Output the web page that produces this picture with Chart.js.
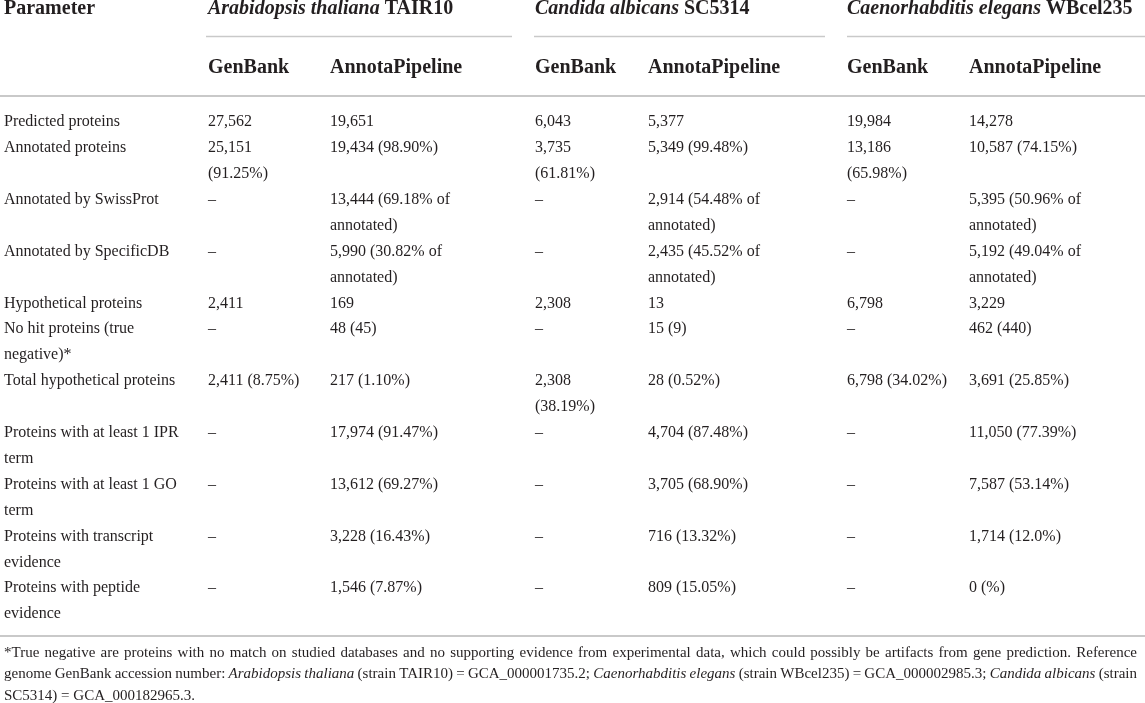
<!DOCTYPE html>
<html>
<head>
<meta charset="utf-8">
<script src="https://cdn.jsdelivr.net/npm/chart.js@4/dist/chart.umd.min.js"></script>
<style>
  html, body { margin: 0; padding: 0; background: #fff; }
  #tableChart { display: block; }
</style>
</head>
<body>
<canvas id="tableChart" width="1145" height="703"></canvas>
<script>
// Contenido de la tabla ({...} = cursiva, \n = salto de línea como en el original)
const groups = ['{Arabidopsis thaliana} TAIR10', '{Candida albicans} SC5314', '{Caenorhabditis elegans} WBcel235'];
const sources = ['GenBank', 'AnnotaPipeline'];
const parameters = [
    'Predicted proteins',
    'Annotated proteins',
    'Annotated by SwissProt',
    'Annotated by SpecificDB',
    'Hypothetical proteins',
    'No hit proteins (true\nnegative)*',
    'Total hypothetical proteins',
    'Proteins with at least 1 IPR\nterm',
    'Proteins with at least 1 GO\nterm',
    'Proteins with transcript\nevidence',
    'Proteins with peptide\nevidence'
];
const athGenBank = ['27,562', '25,151\n(91.25%)', '–', '–', '2,411', '–', '2,411 (8.75%)', '–', '–', '–', '–'];
const athAnnota = ['19,651', '19,434 (98.90%)', '13,444 (69.18% of\nannotated)', '5,990 (30.82% of\nannotated)', '169', '48 (45)', '217 (1.10%)', '17,974 (91.47%)', '13,612 (69.27%)', '3,228 (16.43%)', '1,546 (7.87%)'];
const calGenBank = ['6,043', '3,735\n(61.81%)', '–', '–', '2,308', '–', '2,308\n(38.19%)', '–', '–', '–', '–'];
const calAnnota = ['5,377', '5,349 (99.48%)', '2,914 (54.48% of\nannotated)', '2,435 (45.52% of\nannotated)', '13', '15 (9)', '28 (0.52%)', '4,704 (87.48%)', '3,705 (68.90%)', '716 (13.32%)', '809 (15.05%)'];
const celGenBank = ['19,984', '13,186\n(65.98%)', '–', '–', '6,798', '–', '6,798 (34.02%)', '–', '–', '–', '–'];
const celAnnota = ['14,278', '10,587 (74.15%)', '5,395 (50.96% of\nannotated)', '5,192 (49.04% of\nannotated)', '3,229', '462 (440)', '3,691 (25.85%)', '11,050 (77.39%)', '7,587 (53.14%)', '1,714 (12.0%)', '0 (%)'];
const footnote = [
    '*True negative are proteins with no match on studied databases and no supporting evidence from experimental data, which could possibly be artifacts from gene prediction. Reference',
    'genome GenBank accession number: {Arabidopsis thaliana} (strain TAIR10) = GCA_000001735.2; {Caenorhabditis elegans} (strain WBcel235) = GCA_000002985.3; {Candida albicans} (strain',
    'SC5314) = GCA_000182965.3.'
];

// Disposición (píxeles del lienzo)
const W = 1145, H = 703;
const COL_X = [4, 208, 330, 535, 648, 847, 969];
const GROUP_LINE = [[206, 512], [534, 825], [847, 1145]];
const Y_HEAD1 = 9, Y_GROUP_RULE = 36.5, Y_HEAD2 = 68, Y_HEAD_RULE = 96;
const Y_BODY = 122, LINE_H = 25.9, Y_BOTTOM_RULE = 636;
const Y_FOOT = 653, FOOT_H = 21.5, FOOT_RIGHT = 1137;
const INK = '#231f20', RULE = '#c9c9c9';
const FAMILY = '"Liberation Serif", "DejaVu Serif", serif';
const FONTS = {
    head: { size: 20, weight: 'bold' },
    body: { size: 16, weight: 'normal' },
    foot: { size: 15, weight: 'normal' }
};

const columns = [parameters, athGenBank, athAnnota, calGenBank, calAnnota, celGenBank, celAnnota];

// Celdas de texto
const textPoints = [];
textPoints.push({ x: COL_X[0], y: Y_HEAD1, text: 'Parameter', font: 'head' });
groups.forEach((g, i) => textPoints.push({ x: COL_X[1 + i * 2], y: Y_HEAD1, text: g, font: 'head' }));
groups.forEach((g, i) => sources.forEach((s, j) =>
    textPoints.push({ x: COL_X[1 + i * 2 + j], y: Y_HEAD2, text: s, font: 'head' })));

let line = 0;
parameters.forEach((p, r) => {
    let rowLines = 1;
    columns.forEach((col, c) => {
        const parts = col[r].split('\n');
        rowLines = Math.max(rowLines, parts.length);
        parts.forEach((t, k) => textPoints.push({ x: COL_X[c], y: Y_BODY + (line + k) * LINE_H, text: t, font: 'body' }));
    });
    line += rowLines;
});
footnote.forEach((t, k) => textPoints.push({
    x: COL_X[0], y: Y_FOOT + k * FOOT_H, text: t, font: 'foot', justify: k < footnote.length - 1
}));

// Líneas horizontales
const rules = [
    ...GROUP_LINE.map(([a, b]) => ({ y: Y_GROUP_RULE, x0: a, x1: b, w: 1.5 })),
    { y: Y_HEAD_RULE, x0: 0, x1: W, w: 2 },
    { y: Y_BOTTOM_RULE, x0: 0, x1: W, w: 2 }
];

function parseRuns(text) {
    const runs = [];
    const re = /\{([^}]*)\}|([^{]+)/g;
    let m;
    while ((m = re.exec(text)) !== null) {
        if (m[1] !== undefined) runs.push({ t: m[1], italic: true });
        else runs.push({ t: m[2], italic: false });
    }
    return runs;
}

function fontFor(key, italic) {
    const f = FONTS[key];
    return (italic ? 'italic ' : '') + f.weight + ' ' + f.size + 'px ' + FAMILY;
}

const tablePlugin = {
    id: 'tableText',
    afterDatasetsDraw(chart) {
        const ctx = chart.ctx;
        const meta = chart.getDatasetMeta(0);
        const ds = chart.data.datasets[0];
        ctx.save();
        ctx.fillStyle = INK;
        ctx.textBaseline = 'middle';
        ctx.textAlign = 'left';
        meta.data.forEach((el, i) => {
            const pt = ds.data[i];
            const runs = parseRuns(pt.text);
            let extra = 0;
            if (pt.justify) {
                let natural = 0, spaces = 0;
                runs.forEach(r => {
                    ctx.font = fontFor(pt.font, r.italic);
                    natural += ctx.measureText(r.t).width;
                    spaces += (r.t.match(/ /g) || []).length;
                });
                const target = chart.scales.x.getPixelForValue(FOOT_RIGHT) - el.x;
                if (spaces > 0) extra = (target - natural) / spaces;
            }
            let x = el.x;
            runs.forEach(r => {
                ctx.font = fontFor(pt.font, r.italic);
                if (extra !== 0) {
                    r.t.split(/( )/).forEach(w => {
                        if (w === ' ') { x += ctx.measureText(' ').width + extra; return; }
                        ctx.fillText(w, x, el.y);
                        x += ctx.measureText(w).width;
                    });
                } else {
                    ctx.fillText(r.t, x, el.y);
                    x += ctx.measureText(r.t).width;
                }
            });
        });
        ctx.restore();
    }
};

const datasets = [
    { type: 'scatter', data: textPoints, pointRadius: 0, pointHoverRadius: 0 },
    ...rules.map(r => ({
        type: 'line',
        data: [{ x: r.x0, y: r.y }, { x: r.x1, y: r.y }],
        borderColor: RULE,
        borderWidth: r.w,
        pointRadius: 0,
        tension: 0,
        fill: false
    }))
];

const config = {
    type: 'scatter',
    data: { datasets },
    options: {
        responsive: false,
        animation: false,
        layout: { padding: 0 },
        events: [],
        scales: {
            x: { type: 'linear', min: 0, max: W, display: false },
            y: { type: 'linear', min: 0, max: H, reverse: true, display: false }
        },
        plugins: { legend: { display: false }, tooltip: { enabled: false } }
    },
    plugins: [tablePlugin]
};

const ctx = document.getElementById('tableChart').getContext('2d');
new Chart(ctx, config);
</script>
</body>
</html>
